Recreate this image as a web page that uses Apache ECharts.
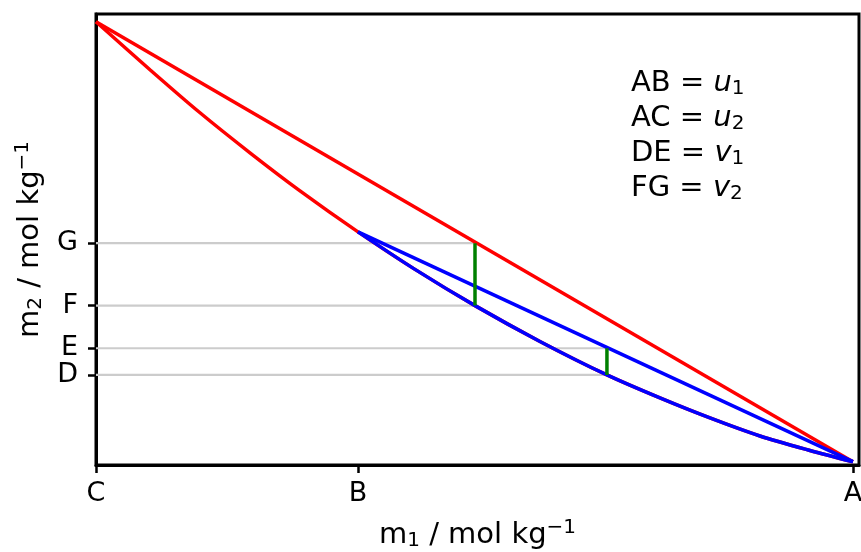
<!DOCTYPE html>
<html>
<head>
<meta charset="utf-8">
<script src="https://cdn.jsdelivr.net/npm/echarts@6/dist/echarts.min.js"></script>
<style>
html,body{margin:0;padding:0;background:#fff;}
#chart{width:861px;height:552px;}
</style>
</head>
<body>
<div id="chart"></div>
<script>
// ---- data ----
const xTickLabels = ['C', 'B', 'A'];
const xTickValues = [0, 0.3461, 1];
const yTickLabels = ['D', 'E', 'F', 'G'];
const yTickValues = [0.1997, 0.2589, 0.3534, 0.4919];

// lower (convex) curve from C to A
const curveX = [0, 0.0713, 0.1374, 0.2034, 0.2695, 0.3461, 0.4214, 0.5007, 0.5865, 0.6750, 0.7450, 0.8111, 0.8771, 0.9432, 1];
const curveY = [0.9829, 0.8765, 0.7810, 0.6923, 0.6079, 0.5170, 0.4338, 0.3534, 0.2740, 0.1997, 0.1487, 0.1043, 0.0643, 0.0322, 0.0073];
const blueStartIndex = 5; // point B on the curve

// straight line C -> A
const lineCAX = [0, 1];
const lineCAY = [0.9829, 0.0073];
// straight line B(point) -> A
const lineBAX = [0.3461, 1];
const lineBAY = [0.5170, 0.0073];

// green segments
const greenX = [0.5007, 0.6750];
const greenLow = [0.3534, 0.1997];   // F, D
const greenHigh = [0.4919, 0.2589];  // G, E

// grey guide lines: y level and x end
const guideY = [0.4919, 0.3534, 0.2589, 0.1997];
const guideEndX = [0.5007, 0.5007, 0.6750, 0.6750];

const xMax = 1.008;
const FONT = 'DejaVu Sans';
const FS = 29;
const TFS = 27;
const SFS = 20;
const LW = 3.5;

// ticks split over two overlaid y axes so close labels (D, E) are both kept
const yTickAxis = [0, 1, 0, 0];
const yVals0 = yTickValues.filter((v, i) => yTickAxis[i] === 0);
const yVals1 = yTickValues.filter((v, i) => yTickAxis[i] === 1);

// ---- build series ----
const zip = (xs, ys) => xs.map((x, i) => [x, ys[i]]);
const series = [];
guideY.forEach((y, i) => {
  series.push({type: 'line', data: [[0, y], [guideEndX[i], y]], symbol: 'none',
    lineStyle: {color: '#cccccc', width: 2.2}, z: 1, silent: true});
});
series.push({type: 'line', data: zip(lineCAX, lineCAY), symbol: 'none',
  lineStyle: {color: '#ff0000', width: LW}, z: 2});
series.push({type: 'line', data: zip(curveX, curveY), symbol: 'none', smooth: 0.3,
  lineStyle: {color: '#ff0000', width: LW}, z: 2});
series.push({type: 'line', data: zip(curveX.slice(blueStartIndex), curveY.slice(blueStartIndex)), symbol: 'none', smooth: 0.3,
  lineStyle: {color: '#0000ff', width: LW}, z: 3});
series.push({type: 'line', data: zip(lineBAX, lineBAY), symbol: 'none',
  lineStyle: {color: '#0000ff', width: LW}, z: 3});
greenX.forEach((x, i) => {
  series.push({type: 'line', data: [[x, greenLow[i]], [x, greenHigh[i]]], symbol: 'none',
    lineStyle: {color: '#008000', width: LW}, z: 4});
});

const nameRich = {
  n: {fontFamily: FONT, fontSize: FS, color: '#000'},
  sub: {fontFamily: FONT, fontSize: SFS, color: '#000', padding: [12, 0, 0, 0]},
  sup: {fontFamily: FONT, fontSize: SFS, color: '#000', padding: [0, 0, 14, 0]}
};

const lbl = (vals, names) => v => {
  const i = vals.findIndex(t => Math.abs(t - v) < 1e-6);
  return i >= 0 ? names[i] : '';
};

const yAxisFor = (vals, withName) => ({
  type: 'value', min: 0, max: 1, position: 'left', offset: 0,
  name: withName ? '{n|m}{sub|2}{n| / mol kg}{sup|−1}' : '',
  nameLocation: 'middle', nameGap: 42, nameRotate: 90,
  nameTextStyle: {rich: nameRich},
  axisLine: {show: withName, onZero: false, lineStyle: {color: '#000', width: 3}},
  axisTick: {show: true, customValues: vals, length: 8, lineStyle: {color: '#000', width: 2.5}},
  axisLabel: {customValues: vals, hideOverlap: false, showMinLabel: true, showMaxLabel: true,
    margin: 18, fontFamily: FONT, fontSize: TFS, color: '#000',
    formatter: lbl(yTickValues, yTickLabels)},
  splitLine: {show: false}
});

const chart = echarts.init(document.getElementById('chart'), null, {renderer: 'canvas'});
chart.setOption({
  animation: false,
  backgroundColor: '#ffffff',
  grid: {left: 96, right: 2, top: 14, bottom: 87, show: true, borderColor: '#000', borderWidth: 3,
    containLabel: false, outerBoundsMode: 'none'},
  xAxis: {
    type: 'value', min: 0, max: xMax,
    name: '{n|m}{sub|1}{n| / mol kg}{sup|−1}',
    nameLocation: 'middle', nameGap: 53,
    nameTextStyle: {rich: nameRich},
    axisLine: {show: true, onZero: false, lineStyle: {color: '#000', width: 3}},
    axisTick: {show: true, customValues: xTickValues, length: 8, lineStyle: {color: '#000', width: 2.5}},
    axisLabel: {customValues: xTickValues, hideOverlap: false, showMinLabel: true, showMaxLabel: true,
      margin: 15, fontFamily: FONT, fontSize: TFS, color: '#000',
      formatter: lbl(xTickValues, xTickLabels)},
    splitLine: {show: false}
  },
  yAxis: [yAxisFor(yVals0, true), yAxisFor(yVals1, false)],
  graphic: [{
    type: 'text', left: 631, top: 67, z: 10,
    style: {
      text: '{n|AB = }{i|u}{s|1}\n{n|AC = }{i|u}{s|2}\n{n|DE = }{i|v}{s|1}\n{n|FG = }{i|v}{s|2}',
      rich: {
        n: {fontFamily: FONT, fontSize: FS, fill: '#000', lineHeight: 35},
        i: {fontFamily: FONT, fontSize: FS, fontStyle: 'italic', fill: '#000', lineHeight: 35},
        s: {fontFamily: FONT, fontSize: SFS, fill: '#000', lineHeight: 35, padding: [12, 0, 0, 0]}
      }
    }
  }],
  series: series
});
</script>
</body>
</html>
